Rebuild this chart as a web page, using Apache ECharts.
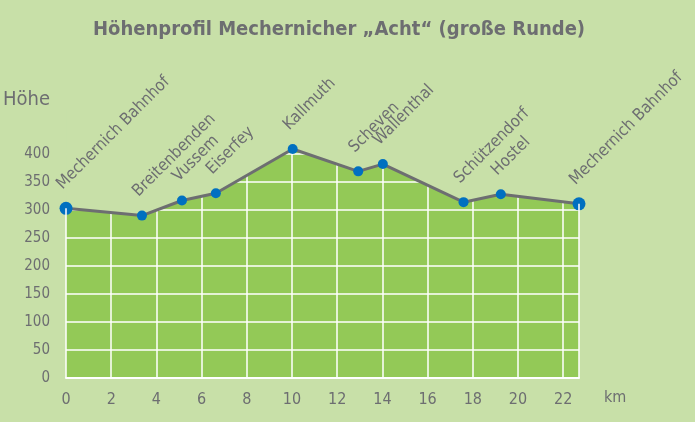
<!DOCTYPE html>
<html>
<head>
<meta charset="utf-8">
<script src="https://cdn.jsdelivr.net/npm/echarts@6/dist/echarts.min.js"></script>
<style>
html,body{margin:0;padding:0;background:#c8e0a8;}
#c{width:695px;height:422px;}
</style>
</head>
<body>
<div id="c"></div>
<script>
// Data
var km = [0, 3.36, 5.13, 6.63, 10.03, 12.93, 14.02, 17.59, 19.24, 22.7];
var hoehe = [303, 290, 317, 330, 409, 369, 382, 314, 328, 311];
var orte = ['Mechernich Bahnhof', 'Breitenbenden', 'Vussem', 'Eiserfey', 'Kallmuth',
            'Scheven', 'Wallenthal', 'Schützendorf', 'Hostel', 'Mechernich Bahnhof'];
var yTicks = [0, 50, 100, 150, 200, 250, 300, 350, 400];
var xTicks = [0, 2, 4, 6, 8, 10, 12, 14, 16, 18, 20, 22];

var BG = '#c8e0a8', GREEN = '#93c957', GRAY = '#6d6e71', BLUE = '#0070c0';
var FONT = '"DejaVu Sans Condensed", "Liberation Sans Narrow", sans-serif';

var last = km.length - 1;
var pairs = km.map(function (x, i) { return [x, hoehe[i]]; });
var pointData = km.map(function (x, i) {
  var big = (i === 0 || i === last);
  var s = big ? 13 : 10;
  return {
    value: [x, hoehe[i]],
    symbolSize: s,
    label: { position: [s / 2 - 0.5, s / 2 - 15.5] }
  };
});
// white edge lines of the profile (start and end of the route)
var edgeLines = [
  [{ coord: [km[0], 0] }, { coord: [km[0], hoehe[0]] }],
  [{ coord: [km[last], 0] }, { coord: [km[last], hoehe[last]] }]
];

var chart = echarts.init(document.getElementById('c'), null, { renderer: 'canvas' });
chart.setOption({
  backgroundColor: BG,
  animation: false,
  textStyle: { fontFamily: FONT },
  title: {
    text: 'Höhenprofil Mechernicher „Acht“ (große Runde)',
    left: 88, top: 15,
    textStyle: { fontFamily: FONT, fontWeight: 'bold', fontSize: 20, color: GRAY }
  },
  grid: { left: 66, right: 116, top: 126, bottom: 44, containLabel: false },
  xAxis: {
    type: 'value', min: 0, max: km[last], interval: 2, z: 2,
    name: ' \nkm', nameLocation: 'end', nameGap: 25,
    nameTextStyle: { fontFamily: FONT, fontSize: 16, color: GRAY, align: 'left', verticalAlign: 'middle', lineHeight: 40 },
    axisLine: { show: true, lineStyle: { color: '#ffffff', width: 2 } },
    axisTick: { show: false },
    axisLabel: {
      fontFamily: FONT, fontSize: 16, color: GRAY, margin: 14,
      showMaxLabel: false,
      formatter: function (v) { return xTicks.indexOf(v) >= 0 ? String(v) : ''; }
    },
    splitLine: { show: true, showMinLine: false, showMaxLine: false, lineStyle: { color: '#ffffff', width: 1.5 } }
  },
  yAxis: {
    type: 'value', min: 0, max: 450, interval: 50, z: 2,
    name: 'Höhe', nameLocation: 'end', nameGap: 26,
    nameTextStyle: { fontFamily: FONT, fontSize: 20, color: GRAY, align: 'right', verticalAlign: 'middle', padding: [0, 16, 0, 0] },
    axisLine: { show: false },
    axisTick: { show: false },
    axisLabel: {
      fontFamily: FONT, fontSize: 15, color: GRAY, margin: 16,
      formatter: function (v) { return yTicks.indexOf(v) >= 0 ? String(v) : ''; }
    },
    splitLine: { show: true, showMaxLine: false, lineStyle: { color: '#ffffff', width: 1.5 } }
  },
  series: [
    {
      type: 'line', data: pairs, z: 1, symbol: 'none', silent: true,
      lineStyle: { width: 0 },
      areaStyle: { color: GREEN, opacity: 1 },
      markLine: {
        silent: true, symbol: ['none', 'none'], label: { show: false },
        lineStyle: { color: '#ffffff', width: 1.5, type: 'solid' },
        data: edgeLines
      }
    },
    {
      type: 'line', data: pairs, z: 3, symbol: 'none', silent: true, clip: false,
      lineStyle: { width: 0 },
      areaStyle: { color: BG, opacity: 1, origin: 480 }
    },
    {
      type: 'line', data: pointData, z: 4, symbol: 'circle', clip: false,
      lineStyle: { color: GRAY, width: 3 },
      itemStyle: { color: BLUE, borderWidth: 0 },
      label: {
        show: true, rotate: 45, align: 'left', verticalAlign: 'bottom',
        color: GRAY, fontSize: 16.5, fontFamily: FONT,
        formatter: function (p) { return orte[p.dataIndex]; }
      }
    }
  ]
});
</script>
</body>
</html>
